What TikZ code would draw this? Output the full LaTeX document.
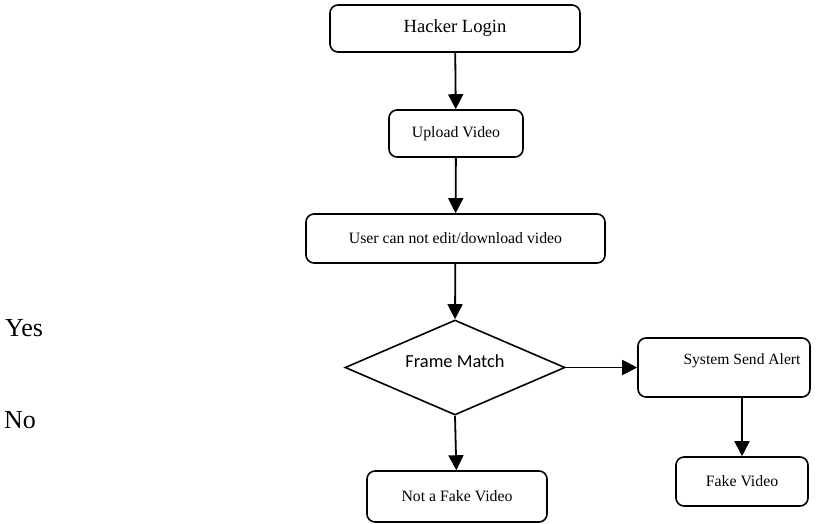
\documentclass[tikz,border=0pt]{standalone}
\usepackage{fontspec}
\setmainfont{Liberation Serif}
\newfontfamily\carlito{Carlito}
\usetikzlibrary{shapes.geometric,arrows.meta}
\begin{document}
\begin{tikzpicture}[x=1pt,y=-1pt,
  box/.style={draw=black,line width=1.6pt,rounded corners=8pt,inner sep=0pt,font=\fontsize{15.8}{18}\selectfont},
  decision/.style={draw=black,line width=1.6pt,diamond,aspect=2.3,inner sep=0pt,minimum width=220pt,minimum height=95pt,font=\carlito\fontsize{18.4}{20}\selectfont,text height=13pt,text depth=13pt},
  flow/.style={line width=1.8pt,-{Triangle[width=15pt,length=15pt]}},
  side/.style={font=\fontsize{26}{30}\selectfont,anchor=base west,inner sep=0pt}]
\useasboundingbox (0,0) rectangle (838,523);
\node[box,minimum width=250pt,minimum height=47pt,font=\fontsize{18.6}{21}\selectfont] (login) at (455,28.5) {Hacker Login};
\node[box,minimum width=134pt,minimum height=47pt] (upload) at (456,133.5) {Upload Video};
\node[box,minimum width=299pt,minimum height=49pt] (user) at (455.5,238.5) {User can not edit/download video};
\node[decision] (match) at (455,367.5) {Frame Match};
\node[box,minimum width=172pt,minimum height=59pt] (alert) at (724,367.5) {};
\node[font=\fontsize{15.6}{18}\selectfont,inner sep=0pt] (alerttext) at (742,361) {System Send Alert};
\node[box,minimum width=132pt,minimum height=49pt] (fake) at (742,481.5) {Fake Video};
\node[box,minimum width=180pt,minimum height=51pt] (notfake) at (457,496.5) {Not a Fake Video};
\node[side] (yes) at (5,336) {Yes};
\node[side] (no) at (4,428) {No};
\draw[flow] (login) -- (upload);
\draw[flow] (upload) -- (user);
\draw[flow] (user) -- (match.north);
\draw[flow] (match.east) -- (alert.west);
\draw[flow] (match.south) -- (notfake);
\draw[flow] (alert.south -| fake.north) -- (fake.north);
\end{tikzpicture}
\end{document}
